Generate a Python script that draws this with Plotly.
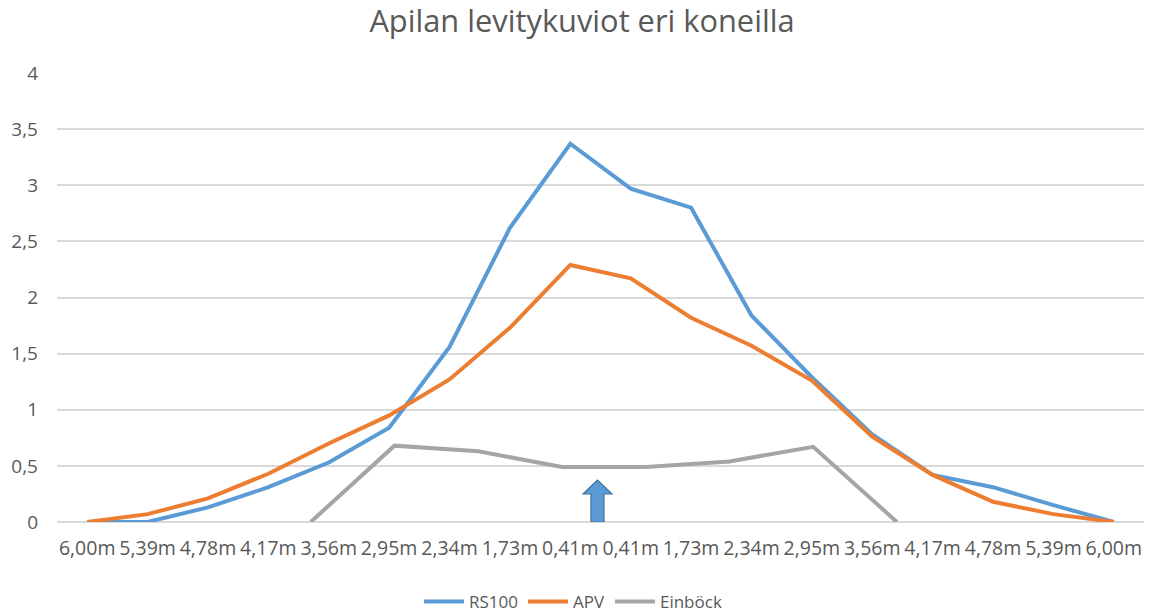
import plotly.graph_objects as go

categories = ["6,00m", "5,39m", "4,78m", "4,17m", "3,56m", "2,95m", "2,34m", "1,73m", "0,41m",
              "0,41m", "1,73m", "2,34m", "2,95m", "3,56m", "4,17m", "4,78m", "5,39m", "6,00m"]
rs100 = [0, 0, 0.13, 0.31, 0.53, 0.84, 1.56, 2.62, 3.37, 2.97, 2.80, 1.84, 1.29, 0.78, 0.42, 0.31, 0.15, 0]
apv = [0, 0.07, 0.21, 0.43, 0.70, 0.95, 1.27, 1.73, 2.29, 2.17, 1.82, 1.57, 1.26, 0.76, 0.42, 0.18, 0.07, 0]
einbock = [0, 0.68, 0.63, 0.49, 0.49, 0.54, 0.67, 0]
y_ticks = [0, 0.5, 1, 1.5, 2, 2.5, 3, 3.5, 4]
y_tick_labels = ["0", "0,5", "1", "1,5", "2", "2,5", "3", "3,5", "4"]

pos = list(range(len(categories)))
ein_pos = list(range(len(einbock)))

FONT = "Open Sans"
TXT = "#595959"

fig = go.Figure()
fig.add_trace(go.Scatter(x=pos, y=rs100, mode="lines", name="RS100",
                         line=dict(color="#5B9BD5", width=4)))
fig.add_trace(go.Scatter(x=pos, y=apv, mode="lines", name="APV",
                         line=dict(color="#ED7D31", width=4)))
fig.add_trace(go.Scatter(x=ein_pos, y=einbock, mode="lines", name="Einböck",
                         xaxis="x2", line=dict(color="#A5A5A5", width=4)))

# block arrow marker between the two 0,41m categories
fig.add_shape(type="path", xref="x", yref="y", xsizemode="pixel", ysizemode="pixel",
              xanchor=8.45, yanchor=0,
              path="M -6.5,0 L 6.5,0 L 6.5,28 L 14.5,28 L 0,42 L -14.5,28 L -6.5,28 Z",
              fillcolor="#5B9BD5", line=dict(color="#41719C", width=1.2), layer="above")

fig.update_layout(
    width=1152, height=614,
    paper_bgcolor="white", plot_bgcolor="white",
    margin=dict(l=57, r=8, t=73, b=92, autoexpand=False),
    title=dict(text="Apilan levitykuviot eri koneilla", x=582 / 1152, xanchor="center",
               y=1 - 21 / 614, yanchor="middle",
               font=dict(family=FONT, size=30.8, color=TXT)),
    font=dict(family=FONT, color=TXT),
    xaxis=dict(range=[-0.5, 17.5], tickmode="array", tickvals=pos, ticktext=categories,
               showgrid=False, showline=False, zeroline=False, ticks="", automargin=False,
               tickfont=dict(size=19.5, color=TXT), ticklabelstandoff=12, fixedrange=True),
    xaxis2=dict(overlaying="x", range=[-3.03, 9.95], visible=False, fixedrange=True),
    yaxis=dict(range=[0, 4], tickmode="array", tickvals=y_ticks, ticktext=y_tick_labels,
               showgrid=True, gridcolor="#D9D9D9", gridwidth=1.5, automargin=False,
               zeroline=True, zerolinecolor="#D9D9D9", zerolinewidth=1.5,
               showline=False, ticks="", tickfont=dict(size=19, color=TXT),
               ticklabelstandoff=18, fixedrange=True),
    legend=dict(orientation="h", x=(573 - 57) / 1087, xanchor="center",
                y=-80 / 449, yanchor="middle",
                font=dict(family=FONT, size=17, color=TXT),
                traceorder="normal", tracegroupgap=0, itemwidth=40),
    showlegend=True,
)

fig.write_html("out.html", config={"displayModeBar": False},
               post_script="document.body.style.margin='0';document.body.style.padding='0';")
